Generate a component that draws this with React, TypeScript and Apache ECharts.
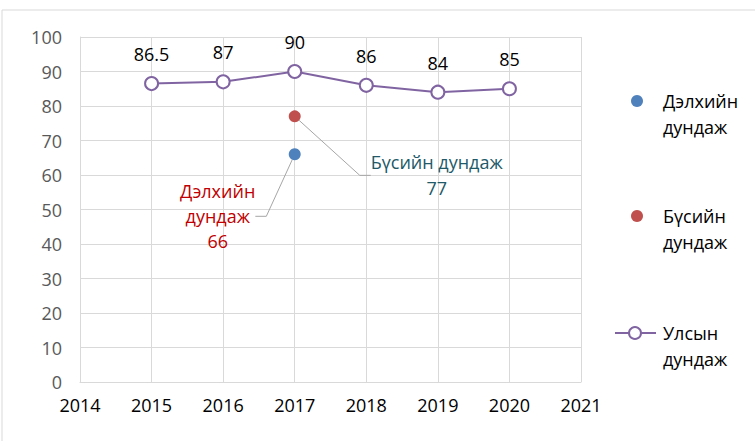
import React, { useEffect, useRef } from "react";
import * as echarts from "echarts";

const years = [2015, 2016, 2017, 2018, 2019, 2020];
const nationalAvg = [86.5, 87, 90, 86, 84, 85];
const pointYear = 2017;
const worldAvg = 66;
const regionAvg = 77;
const xRange = [2014, 2021];
const yRange = [0, 100];
const worldName = "Дэлхийн дундаж";
const regionName = "Бүсийн дундаж";
const nationalName = "Улсын дундаж";

const FONT = '"Open Sans", "Noto Sans", sans-serif';
const FS = 18;

export default function App() {
  const ref = useRef<HTMLDivElement>(null);
  useEffect(() => {
    if (!ref.current) return;
    const chart = echarts.init(ref.current, undefined, { renderer: "svg" });
    const leader = { show: true, length2: 11, lineStyle: { color: "#A6A6A6", width: 1 } };
    chart.setOption({
      animation: false,
      backgroundColor: "#fff",
      grid: { left: 80, right: 174, top: 37, bottom: 59 },
      xAxis: {
        type: "value",
        min: xRange[0],
        max: xRange[1],
        interval: 1,
        axisLine: { show: true, lineStyle: { color: "#D9D9D9", width: 1 } },
        axisTick: { show: false },
        splitLine: { show: true, lineStyle: { color: "#D9D9D9", width: 1 } },
        axisLabel: { color: "#000", fontSize: FS, fontFamily: FONT, margin: 14, formatter: (v: number) => String(v) },
      },
      yAxis: {
        type: "value",
        min: yRange[0],
        max: yRange[1],
        interval: 10,
        axisLine: { show: true, lineStyle: { color: "#D9D9D9", width: 1 } },
        axisTick: { show: false },
        splitLine: { show: true, lineStyle: { color: "#D9D9D9", width: 1 } },
        axisLabel: { color: "#595959", fontSize: FS, fontFamily: FONT, margin: 18 },
      },
      series: [
        {
          name: worldName,
          type: "scatter",
          symbolSize: 12,
          itemStyle: { color: "#4F81BD", opacity: 1 },
          data: [[pointYear, worldAvg]],
          label: {
            show: true,
            position: "inside",
            formatter: (p: any) => `Дэлхийн\nдундаж\n${p.value[1]}`,
            color: "#C00000",
            fontSize: FS,
            fontFamily: FONT,
            lineHeight: 25,
            align: "center",
          },
          labelLayout: { dx: -77, dy: 62 },
          labelLine: leader,
        },
        {
          name: regionName,
          type: "scatter",
          symbolSize: 12,
          itemStyle: { color: "#C0504D", opacity: 1 },
          data: [[pointYear, regionAvg]],
          label: {
            show: true,
            position: "inside",
            formatter: (p: any) => `Бүсийн дундаж\n${p.value[1]}`,
            color: "#215968",
            fontSize: FS,
            fontFamily: FONT,
            lineHeight: 26,
            align: "center",
          },
          labelLayout: { dx: 142, dy: 59 },
          labelLine: leader,
        },
        {
          name: nationalName,
          type: "line",
          symbol: "emptyCircle",
          symbolSize: 13,
          lineStyle: { color: "#8064A2", width: 2 },
          itemStyle: { color: "#8064A2", borderColor: "#8064A2", borderWidth: 2 },
          data: years.map((y, i) => [y, nationalAvg[i]]),
          label: {
            show: true,
            position: "top",
            distance: 13,
            color: "#000",
            fontSize: FS,
            fontFamily: FONT,
          },
        },
      ],
      graphic: [
        {
          type: "rect",
          z: -10,
          shape: { x: 2, y: 10, width: 800, height: 500 },
          style: { fill: "none", stroke: "#D9D9D9", lineWidth: 1 },
          silent: true,
        },
        { type: "circle", shape: { cx: 637, cy: 101, r: 6 }, style: { fill: "#4F81BD" } },
        {
          type: "text",
          x: 663,
          y: 88,
          style: { text: "Дэлхийн\nдундаж", fill: "#000", fontSize: FS, fontFamily: FONT, lineHeight: 26, verticalAlign: "top" },
        },
        { type: "circle", shape: { cx: 637, cy: 216, r: 6 }, style: { fill: "#C0504D" } },
        {
          type: "text",
          x: 663,
          y: 203,
          style: { text: "Бүсийн\nдундаж", fill: "#000", fontSize: FS, fontFamily: FONT, lineHeight: 26, verticalAlign: "top" },
        },
        { type: "line", shape: { x1: 615, y1: 333, x2: 656, y2: 333 }, style: { stroke: "#8064A2", lineWidth: 2 } },
        { type: "circle", shape: { cx: 635, cy: 333, r: 6 }, style: { fill: "#fff", stroke: "#8064A2", lineWidth: 2 } },
        {
          type: "text",
          x: 663,
          y: 320,
          style: { text: "Улсын\nдундаж", fill: "#000", fontSize: FS, fontFamily: FONT, lineHeight: 26, verticalAlign: "top" },
        },
      ],
    });
    return () => chart.dispose();
  }, []);
  return <div ref={ref} style={{ position: "fixed", left: 0, top: 0, width: 755, height: 441 }} />;
}
